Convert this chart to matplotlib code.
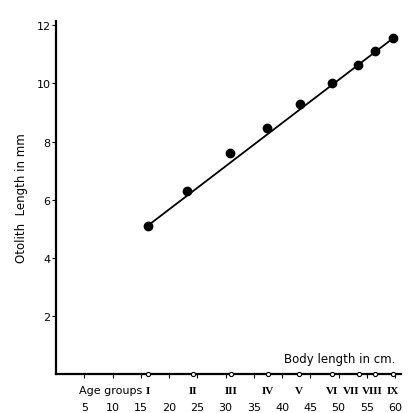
import matplotlib
matplotlib.use('Agg')
import matplotlib.pyplot as plt

# body length (cm) and otolith length (mm)
body_len = [16.2, 23.1, 30.8, 37.4, 43.1, 48.8, 53.4, 56.4, 59.6]
otolith_len = [5.1, 6.3, 7.6, 8.45, 9.3, 10.0, 10.65, 11.1, 11.55]

# fitted line end points
fit_x = [16.2, 59.6]
fit_y = [5.1, 11.55]

# age groups along the body length axis
age_names = ['I', 'II', 'III', 'IV', 'V', 'VI', 'VII', 'VIII', 'IX']
age_x = [16.2, 24.2, 31.0, 37.5, 43.0, 48.8, 53.6, 56.4, 59.6]
# where the labels sit (crowded ones pushed apart)
age_label_x = [16.2, 24.2, 31.0, 37.5, 43.0, 48.8, 52.2, 55.9, 59.5]

x_ticks = [5, 10, 15, 20, 25, 30, 35, 40, 45, 50, 55, 60]
y_ticks = [2, 4, 6, 8, 10, 12]

plt.rcParams['font.family'] = ['DejaVu Sans']

fig = plt.figure(figsize=(4.09, 4.14), dpi=100)
ax = fig.add_axes([0.137, 0.094, 0.843, 0.853])

ax.plot(fit_x, fit_y, '-', color='black', lw=1.3)
ax.plot(body_len, otolith_len, 'o', color='black', ms=6)
ax.plot(age_x, [0] * len(age_x), 'o', mfc='white', mec='black', ms=3, mew=0.8,
        clip_on=False, zorder=5)

ax.set_xlim(0, 61)
ax.set_ylim(0, 12.15)
ax.spines['top'].set_visible(False)
ax.spines['right'].set_visible(False)
ax.spines['left'].set_linewidth(1.6)
ax.spines['bottom'].set_linewidth(1.6)

ax.set_yticks(y_ticks)
ax.set_yticklabels([str(v) for v in y_ticks], fontsize=8)
ax.set_xticks(x_ticks)
ax.set_xticklabels([str(v) for v in x_ticks], fontsize=8)
ax.tick_params(axis='x', length=3, width=0.8, pad=17)
ax.tick_params(axis='y', length=3, width=0.8, pad=1)

# age group row under the axis
for name, xv in zip(age_names, age_label_x):
    ax.text(xv, -0.55, name, ha='center', va='center', fontsize=8,
            family='Liberation Serif', fontweight='bold')
ax.text(age_x[0] - 1.0, -0.55, 'Age groups', ha='right', va='center', fontsize=8)

ax.text(60, 0.55, 'Body length in cm.', ha='right', va='center', fontsize=8.5)
ax.set_ylabel('Otolith  Length in mm', fontsize=8.5, labelpad=6)

fig.savefig('out.png', dpi=100)
